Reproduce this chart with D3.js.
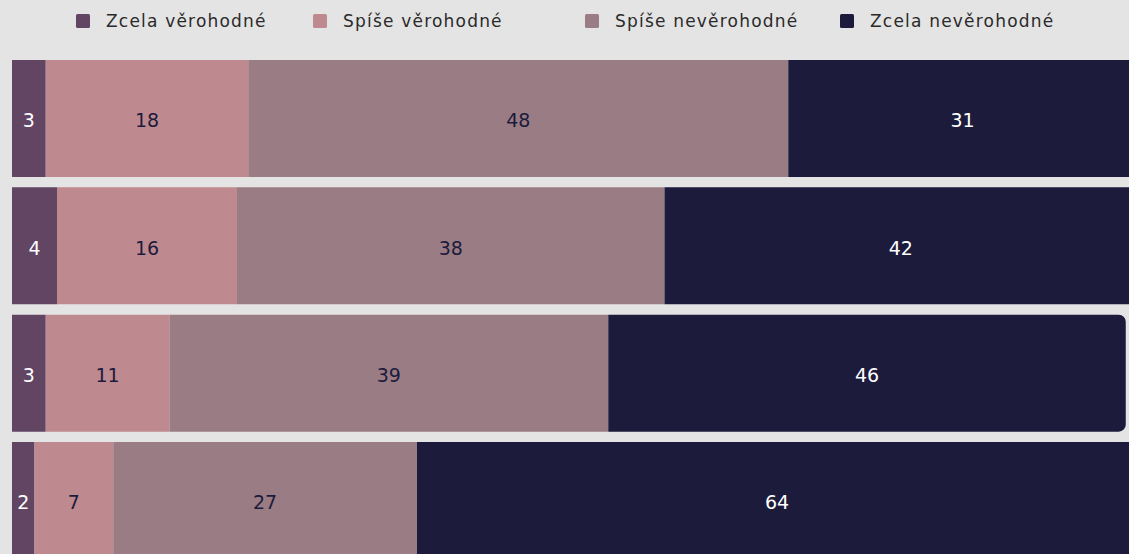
<!DOCTYPE html>
<html>
<head>
<meta charset="utf-8">
<script src="https://cdn.jsdelivr.net/npm/d3@7"></script>
<style>
html,body{margin:0;padding:0;background:#e4e4e4;overflow:hidden;}
svg{display:block;}
</style>
</head>
<body>
<svg id="chart" width="1129" height="554"></svg>
<script>
const rows = ["r1", "r2", "r3", "r4"];
const seriesNames = ["Zcela věrohodné", "Spíše věrohodné", "Spíše nevěrohodné", "Zcela nevěrohodné"];
const zcelaVer = [3, 4, 3, 2];
const spiseVer = [18, 16, 11, 7];
const spiseNever = [48, 38, 39, 27];
const zcelaNever = [31, 42, 46, 64];
const colors = ["#624563", "#bf8a8f", "#9a7c85", "#1c1b3b"];
const labelColors = ["#ffffff", "#1c1b3b", "#1c1b3b", "#ffffff"];

const W = 1129, H = 554;
const svg = d3.select("#chart");
svg.append("rect").attr("width", W).attr("height", H).attr("fill", "#e4e4e4");

const seriesVals = [zcelaVer, spiseVer, spiseNever, zcelaNever];
const data = rows.map((r, i) => {
  const o = {row: r};
  seriesNames.forEach((s, j) => o[s] = seriesVals[j][i]);
  return o;
});
const stacked = d3.stack().keys(seriesNames)(data);

const x = d3.scaleLinear().domain([0, 100]).range([12, 1137]);
const y = d3.scaleBand().domain(rows).range([60, 559]).paddingInner(0.082).paddingOuter(0);
const color = d3.scaleOrdinal().domain(seriesNames).range(colors);

function segPath(x0, x1, y0, h, rRight) {
  const r = Math.min(rRight, (x1 - x0), h / 2);
  if (r <= 0) return `M${x0},${y0}H${x1}V${y0 + h}H${x0}Z`;
  return `M${x0},${y0}H${x1 - r}A${r},${r} 0 0 1 ${x1},${y0 + r}V${y0 + h - r}A${r},${r} 0 0 1 ${x1 - r},${y0 + h}H${x0}Z`;
}

const g = svg.append("g");
stacked.forEach((layer, li) => {
  const isLast = li === stacked.length - 1;
  g.selectAll(null).data(layer).enter().append("path")
    .attr("d", d => segPath(x(d[0]), x(d[1]), y(d.data.row), y.bandwidth(), isLast ? 7 : 0))
    .attr("fill", color(layer.key));
  g.selectAll(null).data(layer).enter().append("text")
    .attr("x", d => (x(d[0]) + x(d[1])) / 2)
    .attr("y", d => y(d.data.row) + y.bandwidth() / 2 + 2)
    .attr("dy", "0.36em")
    .attr("text-anchor", "middle")
    .attr("font-family", "'DejaVu Sans', sans-serif")
    .attr("font-size", 19)
    .attr("fill", labelColors[li])
    .text(d => d[1] - d[0]);
});

// legend
const legendX = [76, 313, 585, 840];
const leg = svg.append("g");
seriesNames.forEach((s, i) => {
  const it = leg.append("g").attr("transform", `translate(${legendX[i]},0)`);
  it.append("rect").attr("x", 0).attr("y", 14).attr("width", 14).attr("height", 14).attr("rx", 1.5).attr("fill", colors[i]);
  it.append("text").attr("x", 30).attr("y", 21).attr("dy", "0.36em")
    .attr("font-family", "'DejaVu Sans', sans-serif")
    .attr("font-size", 17).attr("letter-spacing", 1.2)
    .attr("fill", "#2a2a2a").text(s);
});
</script>
</body>
</html>
